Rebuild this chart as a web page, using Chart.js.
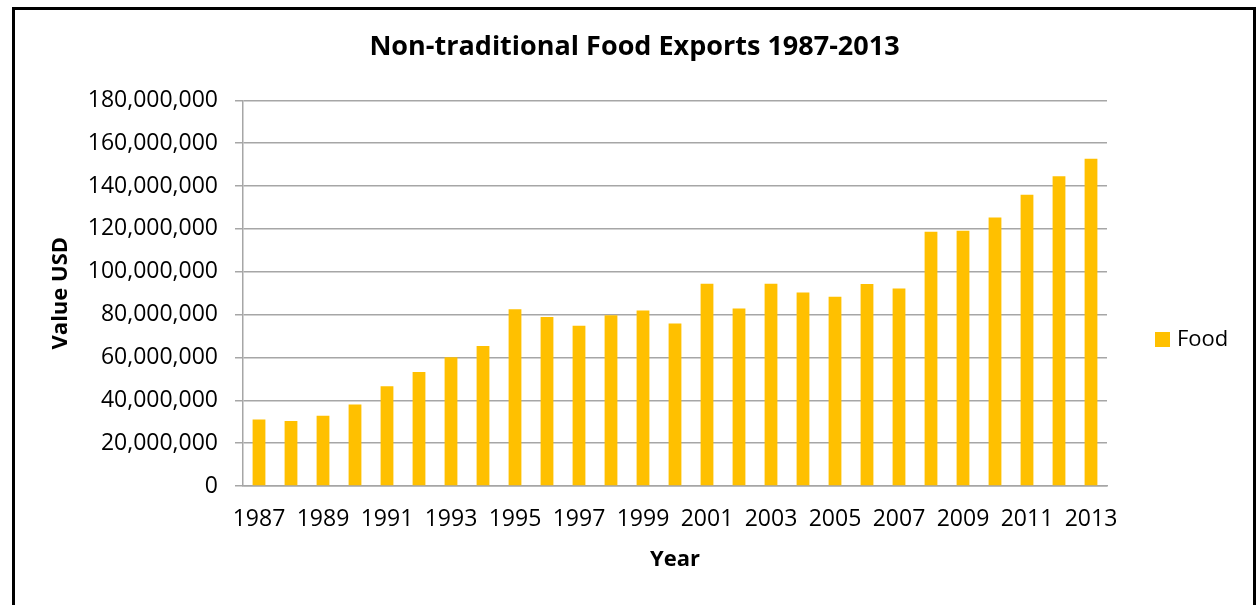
<!DOCTYPE html>
<html>
<head>
<meta charset="utf-8">
<script src="https://cdn.jsdelivr.net/npm/chart.js@4"></script>
<style>
  html, body { margin: 0; padding: 0; background: #fff; }
  #wrap { position: relative; width: 1257px; height: 605px; }
</style>
</head>
<body>
<div id="wrap"><canvas id="c" width="1257" height="605"></canvas></div>
<script>
const years = ['1987','1988','1989','1990','1991','1992','1993','1994','1995','1996','1997','1998','1999','2000',
               '2001','2002','2003','2004','2005','2006','2007','2008','2009','2010','2011','2012','2013'];
const foodValues = [31.0, 30.3, 32.8, 38.0, 46.6, 53.2, 60.1, 65.3, 82.5, 78.9, 74.8, 79.7, 81.9, 75.9,
                    94.4, 82.8, 94.4, 90.3, 88.4, 94.3, 92.2, 118.7, 119.2, 125.3, 135.9, 144.6, 152.8]
                    .map(v => v * 1000000);
const xTickLabels = ['1987','','1989','','1991','','1993','','1995','','1997','','1999','',
                     '2001','','2003','','2005','','2007','','2009','','2011','','2013'];
const seriesName = 'Food';
const chartTitle = 'Non-traditional Food Exports 1987-2013';

const FONT = "'Open Sans', 'Noto Sans', sans-serif";

const framePlugin = {
  id: 'frame',
  afterDraw(chart) {
    const ctx = chart.ctx;
    ctx.save();
    ctx.fillStyle = '#000';
    ctx.fillRect(12, 7, 3, 598);
    ctx.fillRect(12, 7, 1244, 3);
    ctx.fillRect(1253, 7, 3, 598);
    // legend
    const ds = chart.data.datasets[0];
    ctx.fillStyle = ds.backgroundColor;
    ctx.fillRect(1155, 332, 15, 15);
    ctx.fillStyle = '#000';
    ctx.font = "22px " + FONT;
    ctx.textBaseline = 'middle';
    ctx.textAlign = 'left';
    ctx.fillText(ds.label, 1177, 340);
    ctx.restore();
  }
};

new Chart(document.getElementById('c'), {
  type: 'bar',
  data: {
    labels: years,
    datasets: [{
      label: seriesName,
      data: foodValues,
      backgroundColor: '#FFC000',
      borderWidth: 0,
      categoryPercentage: 0.8,
      barPercentage: 0.5
    }]
  },
  options: {
    responsive: false,
    animation: false,
    layout: { padding: { left: 12, right: 0, top: 0, bottom: 0 } },
    plugins: {
      legend: { display: false },
      tooltip: { enabled: false },
      title: {
        display: true,
        text: chartTitle,
        color: '#000',
        font: { family: FONT, size: 27, weight: 'bold' },
        padding: { top: 31, bottom: 37 }
      }
    },
    scales: {
      x: {
        grid: { display: false, drawTicks: false },
        border: { display: true, color: '#A6A6A6', width: 1.5 },
        ticks: {
          autoSkip: false,
          maxRotation: 0,
          color: '#000',
          font: { family: FONT, size: 23 },
          padding: 20,
          callback: (v, i) => xTickLabels[i]
        },
        title: {
          display: true,
          text: 'Year',
          color: '#000',
          font: { family: FONT, size: 22, weight: 'bold' },
          padding: { top: 0, bottom: 32 }
        },
        afterFit(scale) { scale.height = 119; }
      },
      y: {
        min: 0,
        max: 180000000,
        grid: { color: '#A6A6A6', lineWidth: 1.5, tickLength: 8, drawTicks: true },
        border: { display: true, color: '#A6A6A6', width: 1.5 },
        ticks: {
          stepSize: 20000000,
          color: '#000',
          font: { family: FONT, size: 23 },
          padding: 17,
          callback: v => v.toLocaleString('en-US')
        },
        title: {
          display: true,
          text: 'Value USD',
          color: '#000',
          font: { family: FONT, size: 22, weight: 'bold' },
          padding: { top: 36, bottom: 0 }
        },
        afterFit(scale) { scale.width = 231; }
      },
      legendSpace: {
        type: 'linear',
        position: 'right',
        display: true,
        grid: { display: false, drawTicks: false },
        border: { display: false },
        ticks: { display: false },
        afterFit(scale) { scale.width = 150; }
      }
    }
  },
  plugins: [framePlugin]
});
</script>
</body>
</html>
